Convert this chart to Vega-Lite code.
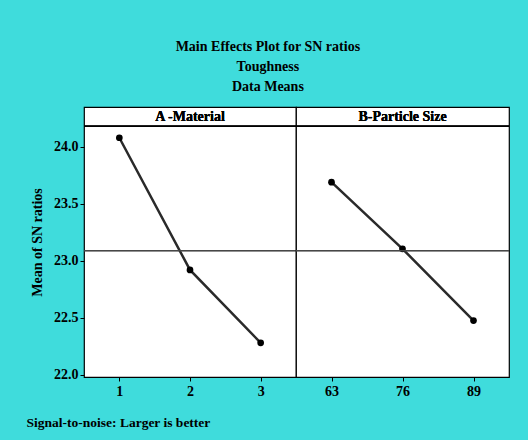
{
  "$schema": "https://vega.github.io/schema/vega-lite/v6.json",
  "background": "#3fdcdc",
  "padding": {"left": 25, "top": 40, "right": 20, "bottom": 10},
  "title": {
    "text": ["Main Effects Plot for SN ratios", "Toughness", "Data Means"],
    "anchor": "middle",
    "font": "Liberation Serif",
    "fontSize": 14,
    "fontWeight": "bold",
    "lineHeight": 20,
    "offset": 12,
    "color": "black"
  },
  "spacing": 0,
  "bounds": "flush",
  "config": {
    "view": {"stroke": "#000", "strokeWidth": 1.2, "fill": "white"},
    "axis": {
      "labelFont": "Liberation Serif",
      "labelFontWeight": "bold",
      "labelFontSize": 14,
      "labelColor": "black",
      "titleFont": "Liberation Serif",
      "titleFontWeight": "bold",
      "titleFontSize": 14,
      "titleColor": "black",
      "tickColor": "#000",
      "tickSize": 4,
      "domain": false,
      "grid": false
    }
  },
  "hconcat": [
    {
      "width": 212,
      "height": 270,
      "data": {"values": [
        {"factor": "A -Material", "level": 1, "sn": 24.08},
        {"factor": "A -Material", "level": 2, "sn": 22.92},
        {"factor": "A -Material", "level": 3, "sn": 22.28}
      ]},
      "layer": [
        {
          "mark": {"type": "line", "color": "#2a2a2a", "strokeWidth": 2.5},
          "encoding": {
            "x": {"field": "level", "type": "quantitative",
                  "scale": {"domain": [0.5, 3.5], "nice": false, "zero": false},
                  "axis": {"values": [1, 2, 3], "format": "d", "labelPadding": 3,
                           "title": "Signal-to-noise: Larger is better",
                           "titleAnchor": "start", "titleAlign": "left", "titleBaseline": "middle",
                           "titleX": -58, "titleY": 45, "titleFontSize": 13.5}},
            "y": {"field": "sn", "type": "quantitative",
                  "scale": {"domain": [21.98, 24.35], "nice": false, "zero": false},
                  "axis": {"values": [22, 22.5, 23, 23.5, 24], "format": ".1f", "title": "Mean of SN ratios", "titlePadding": 9}}
          }
        },
        {
          "mark": {"type": "point", "filled": true, "color": "#000", "size": 45, "opacity": 1},
          "encoding": {
            "x": {"field": "level", "type": "quantitative"},
            "y": {"field": "sn", "type": "quantitative"}
          }
        },
        {
          "mark": {"type": "rule", "color": "#444", "strokeWidth": 1.2},
          "encoding": {"y": {"datum": 23.088, "type": "quantitative"}}
        },
        {
          "mark": {"type": "rule", "color": "#000", "strokeWidth": 1.5},
          "encoding": {"y": {"datum": 24.18, "type": "quantitative"}}
        },
        {
          "mark": {"type": "text", "font": "Liberation Serif", "fontWeight": "bold", "fontSize": 14, "color": "black", "baseline": "middle", "text": "A -Material"},
          "encoding": {
            "x": {"datum": 2, "type": "quantitative"},
            "y": {"datum": 24.265, "type": "quantitative"}
          }
        }
      ]
    },
    {
      "width": 213,
      "height": 270,
      "data": {"values": [
        {"factor": "B-Particle Size", "level": 63, "sn": 23.69},
        {"factor": "B-Particle Size", "level": 76, "sn": 23.105},
        {"factor": "B-Particle Size", "level": 89, "sn": 22.475}
      ]},
      "layer": [
        {
          "mark": {"type": "line", "color": "#2a2a2a", "strokeWidth": 2.5},
          "encoding": {
            "x": {"field": "level", "type": "quantitative",
                  "scale": {"domain": [56.5, 95.5], "nice": false, "zero": false},
                  "axis": {"values": [63, 76, 89], "format": "d", "labelPadding": 3, "title": null}},
            "y": {"field": "sn", "type": "quantitative",
                  "scale": {"domain": [21.98, 24.35], "nice": false, "zero": false},
                  "axis": null}
          }
        },
        {
          "mark": {"type": "point", "filled": true, "color": "#000", "size": 45, "opacity": 1},
          "encoding": {
            "x": {"field": "level", "type": "quantitative"},
            "y": {"field": "sn", "type": "quantitative", "axis": null}
          }
        },
        {
          "mark": {"type": "rule", "color": "#444", "strokeWidth": 1.2},
          "encoding": {"y": {"datum": 23.088, "type": "quantitative", "axis": null}}
        },
        {
          "mark": {"type": "rule", "color": "#000", "strokeWidth": 1.5},
          "encoding": {"y": {"datum": 24.18, "type": "quantitative", "axis": null}}
        },
        {
          "mark": {"type": "text", "font": "Liberation Serif", "fontWeight": "bold", "fontSize": 14, "color": "black", "baseline": "middle", "text": "B-Particle Size"},
          "encoding": {
            "x": {"datum": 76, "type": "quantitative"},
            "y": {"datum": 24.265, "type": "quantitative", "axis": null}
          }
        }
      ]
    }
  ]
}
